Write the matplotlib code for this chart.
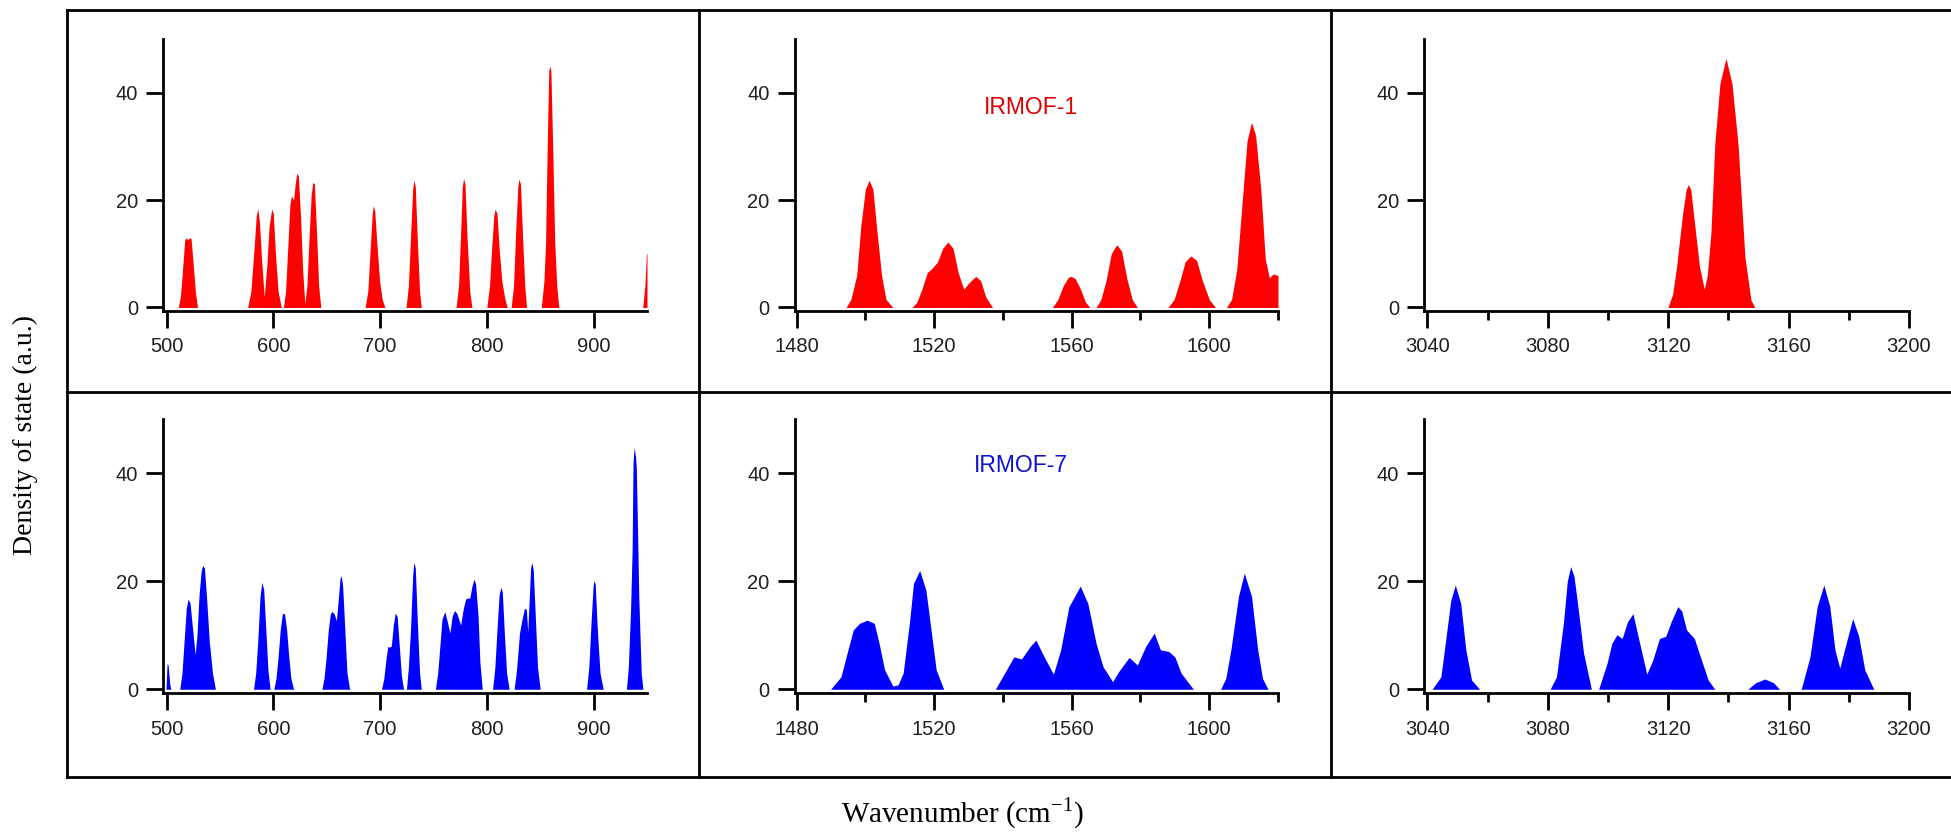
import matplotlib
matplotlib.use('Agg')
import matplotlib.pyplot as plt
from matplotlib.lines import Line2D
from matplotlib.ticker import FixedLocator

plt.rcParams['mathtext.fontset'] = 'custom'
plt.rcParams['mathtext.rm'] = 'Liberation Serif'

# ---- data (wavenumber, density of state) ----
# IRMOF-1, 500-950 cm-1
irmof1_low_x = [500, 511, 513, 515, 517, 518.5, 520, 521.5, 523, 525, 527, 529,
                576, 579, 582, 584, 585.5, 587, 589, 591.5, 594, 596, 598.5, 600, 602, 604.5, 607.5,
                609.5, 611.5, 613.5, 615.5, 617, 619, 620.5, 622, 623.5, 625.5, 627.5, 629.5, 631.5,
                633.5, 635.5, 637, 638.5, 640.5, 642.5, 644.5,
                686, 688.5, 690.5, 692.5, 693.6, 695, 697, 699.5, 702, 704.5,
                724.3, 726.5, 728.5, 730.5, 731.6, 733, 735, 737, 738.6,
                771.2, 773.5, 775.5, 777, 778.2, 779.5, 781.5, 784, 786,
                800, 802.5, 804.5, 806.5, 807.7, 809.5, 811.5, 814, 816.5, 819,
                822.8, 825, 827, 829, 830, 831.5, 833.5, 835.5, 837.2,
                851, 853.5, 855, 856.6, 858, 859, 860, 861.6, 863.6, 865.5, 867.4,
                946, 948, 949.5, 950]
irmof1_low_y = [0, 0, 2, 7, 12.5, 13, 12.6, 13, 12.8, 8, 3, 0,
                0, 3, 11, 17, 18.4, 16, 9, 2, 8, 15, 18.3, 17.5, 10, 3, 0,
                0, 3, 11, 19, 20.8, 20, 23, 25, 24.5, 17, 7, 0.7, 4,
                13, 21, 23.3, 23, 14, 4, 0,
                0, 3, 10, 17, 19, 18, 12, 5, 1.5, 0,
                0, 4, 13, 22, 23.7, 22.5, 12, 3, 0,
                0, 4, 14, 22.5, 24, 23, 13, 3, 0,
                0, 4, 11, 17, 18.3, 17.5, 11, 5, 2, 0,
                0, 4, 14, 22.5, 23.9, 23, 13, 4, 0,
                0, 5, 12, 30.5, 44, 45, 44, 30.5, 12, 4, 0,
                0, 4, 10, 10]

# IRMOF-1, 1480-1620 cm-1
irmof1_mid_x = [1480, 1494.4, 1495.8, 1497.5, 1498.7, 1500, 1501.1, 1502.2, 1503.2, 1504.7, 1506, 1508,
                1513.6, 1515, 1516.5, 1518, 1519.4, 1521, 1522.5, 1524, 1525.5, 1527, 1528.6, 1530,
                1532.1, 1533.5, 1535, 1537,
                1554.4, 1556, 1557.5, 1559, 1559.8, 1561, 1562.5, 1564, 1565.3,
                1567.1, 1568.5, 1570, 1571.5, 1573.1, 1574.5, 1576, 1577.6, 1579.1,
                1588, 1589.8, 1591.5, 1593, 1594.6, 1596.3, 1598, 1600, 1601.8,
                1605, 1606.5, 1608, 1609.5, 1611, 1612.3, 1613.5, 1615, 1616.3, 1617.5, 1618.5, 1620]
irmof1_mid_y = [0, 0, 1.5, 6, 15.3, 22, 23.7, 22, 15.3, 6, 1.5, 0,
                0, 1, 3.5, 6.5, 7.3, 8.5, 11, 12.2, 11, 6.5, 3.4, 4.5,
                5.8, 5, 2, 0,
                0, 1.5, 4, 5.6, 5.8, 5.4, 3.5, 1, 0,
                0, 1.5, 5, 10, 11.7, 10.5, 5.5, 1.5, 0,
                0, 1.5, 5, 8.5, 9.6, 8.8, 5, 1.5, 0,
                0, 1.5, 7, 19, 31, 34.5, 32, 22, 9, 5.5, 6.2, 6]

# IRMOF-1, 3040-3200 cm-1
irmof1_high_x = [3040, 3119.9, 3121.5, 3122.8, 3124.8, 3126, 3126.7, 3127.5, 3128.4, 3130.4, 3132,
                 3133, 3134.2, 3135.5, 3137.2, 3139.2, 3141.2, 3143.2, 3145.5, 3147.5, 3148.8, 3200]
irmof1_high_y = [0, 0, 2.5, 7.6, 17.5, 22, 22.9, 22, 17.5, 7.6, 3.4,
                 6, 13.8, 30.5, 41.7, 46.4, 41.7, 30.5, 9.4, 1.4, 0, 0]

# IRMOF-7, 500-950 cm-1
irmof7_low_x = [499.5, 500.5, 501.5, 503, 504,
                512.4, 514.5, 516.5, 518.5, 520.2, 522, 524, 526.8, 528.5, 530.5, 532.5, 533.8,
                535.5, 537.5, 540, 543, 545.8,
                581.5, 583.5, 585.5, 587.5, 589.2, 591, 593, 595, 597,
                600.5, 602.5, 604.5, 606.5, 608.5, 610.5, 612.5, 614.5, 616.5, 619,
                645.5, 647.5, 649.5, 651.5, 653.5, 655, 657, 659.1, 661, 662.5, 663.7, 665, 667, 669, 671.5,
                701.4, 703.5, 705.5, 707.2, 709, 710.5, 712.5, 714.2, 716, 718, 720, 722,
                724.7, 726.5, 728.5, 730.5, 731.6, 733, 735, 737, 738.6,
                751.8, 754, 756, 758, 760.7, 763, 765.4, 767.5, 769.7, 772, 775.5, 778, 780.1, 782,
                784, 786, 787.9, 789.5, 791.8, 793.5, 795.7,
                805.4, 807.5, 809.5, 811.5, 813.1, 814.5, 816.5, 818.5, 820.9,
                825.5, 827.5, 829, 830.6, 832.5, 835.2, 837, 838.3, 840, 841, 842.2, 843.5, 845.5, 847.5, 850,
                893.4, 895.5, 897.5, 899.5, 900.4, 901.5, 903.5, 906, 909,
                930.7, 932.5, 934.6, 936.1, 936.9, 938, 939.3, 940, 941.2, 942.3, 944.6, 946.2, 950]
irmof7_low_y = [0, 4.7, 4.5, 1, 0,
                0, 3, 9, 15, 16.7, 16, 12, 6.4, 10, 17.5, 22, 22.9,
                22.5, 17, 9, 3, 0,
                0, 3, 9, 17, 19.8, 18.5, 11, 3.5, 0,
                0, 2, 6, 11, 14, 14, 11, 6, 2, 0,
                0, 2, 6, 11, 14, 14.4, 14, 12.7, 17, 20.5, 21, 19, 11, 3, 0,
                0, 2, 5.5, 7.9, 7.8, 8, 12, 14.1, 13.5, 8, 2.5, 0,
                0, 4, 11, 21, 23.5, 22.5, 12, 3, 0,
                0, 3, 8, 13, 14.4, 12.5, 10.4, 13.5, 14.6, 14, 11.9, 15, 16.7, 16.9,
                16.9, 19, 20.4, 19.5, 13.5, 5, 0,
                0, 4, 11, 17.5, 18.9, 18, 10, 3, 0,
                0, 3, 6.5, 10.4, 12.5, 15, 14.8, 10.7, 18, 22.5, 23.5, 22, 13, 4, 0,
                0, 4, 12, 19, 20.2, 19.5, 11, 3, 0,
                0, 4, 14.7, 26, 41.9, 44.8, 43, 41, 28.9, 17.2, 3, 0, 0]

# IRMOF-7, 1480-1620 cm-1
irmof7_mid_x = [1480, 1489.9, 1492.9, 1494.7, 1496.5, 1498.3, 1500.5, 1502.6, 1504, 1505.6, 1508,
                1509.5, 1511, 1512.8, 1514, 1515.8, 1517.6, 1519.1, 1520.6, 1522.8,
                1537.8, 1540.5, 1543.2, 1545.4, 1548, 1549.6, 1552, 1554.7, 1556.8, 1559.2, 1562.5,
                1564.7, 1567.1, 1569.1, 1571.9, 1573.7, 1576.7, 1579.1, 1581.5, 1584, 1585.8,
                1588.2, 1590, 1591.8, 1595.4,
                1603.3, 1604.8, 1606.3, 1608.5, 1610.2, 1612.3, 1614.1, 1615.5, 1617.1, 1620]
irmof7_mid_y = [0, 0, 2.3, 6.7, 11, 12.2, 12.8, 12.2, 8.5, 3.6, 0.6,
                0.8, 3, 12.2, 19.6, 22, 18.4, 11, 3.6, 0,
                0, 3, 6, 5.6, 8, 9.1, 6, 2.8, 7.3, 15.3, 19.1,
                15.9, 8.5, 4.2, 1.4, 3.3, 5.9, 4.5, 7.9, 10.4, 7.3,
                7, 6, 3, 0,
                0, 2, 7.3, 17.2, 21.5, 17.2, 7.3, 2, 0, 0]

# IRMOF-7, 3040-3200 cm-1
irmof7_high_x = [3040, 3041.6, 3044.5, 3046.1, 3047.8, 3049.3, 3051.1, 3052.8, 3054.7, 3057.4,
                 3080.8, 3082.9, 3085.2, 3086.5, 3087.6, 3088.7, 3089.9, 3091.9, 3094.5,
                 3096.9, 3099.7, 3101.3, 3103, 3104.7, 3106.5, 3108.3, 3110.3, 3112.9, 3114.9,
                 3117.1, 3119.2, 3121, 3123.2, 3124.5, 3126.1, 3128.7, 3130.7, 3133.3, 3135.5,
                 3146.5, 3149, 3152.1, 3155, 3157,
                 3164.2, 3167.1, 3169.5, 3171.7, 3173.7, 3175.4, 3177, 3178.7, 3181.3, 3183.3,
                 3185.3, 3188.3, 3200]
irmof7_high_y = [0, 0, 2.3, 9.1, 16.5, 19.3, 15.9, 7.3, 1.7, 0,
                 0, 2.3, 12.2, 20, 22.7, 21, 15.9, 6.7, 0,
                 0, 4.8, 8.5, 10.1, 9.4, 12.5, 14, 9.1, 2.8, 5.4,
                 9.4, 9.8, 12.5, 15.3, 14.5, 11, 9.4, 6, 1.7, 0,
                 0, 1.2, 1.9, 1.2, 0,
                 0, 6, 15.3, 19.3, 15.3, 7.3, 3.9, 7.6, 13.1, 9.8,
                 3.6, 0, 0]

# axis ranges and ticks for the three columns
col_xlim = [(496.7, 950), (1479.4, 1620), (3039, 3200)]
col_major = [[500, 600, 700, 800, 900], [1480, 1520, 1560, 1600], [3040, 3080, 3120, 3160, 3200]]
col_minor = [[], [1500, 1540, 1580, 1620], [3060, 3100, 3140, 3180]]
y_ticks = [0, 20, 40]
labels = ['IRMOF-1', 'IRMOF-7']

W, H = 1951, 835
fig = plt.figure(figsize=(W / 100, H / 100), dpi=100)

def px_rect(x0, x1, ytop, ybot):
    return [x0 / W, 1 - ybot / H, (x1 - x0) / W, (ybot - ytop) / H]

col_px = [(163, 647), (794.5, 1278), (1424.3, 1909)]
row_px = [(39, 310.7), (419.3, 693.3)]
row_ylim = [(-0.6, 50), (-0.75, 50)]

series = [[(irmof1_low_x, irmof1_low_y), (irmof1_mid_x, irmof1_mid_y), (irmof1_high_x, irmof1_high_y)],
          [(irmof7_low_x, irmof7_low_y), (irmof7_mid_x, irmof7_mid_y), (irmof7_high_x, irmof7_high_y)]]
colors = ['#ff0000', '#0000ff']

tick_font = {'family': 'Liberation Sans', 'size': 14.5, 'color': '#202020'}

for r in range(2):
    for c in range(3):
        ax = fig.add_axes(px_rect(col_px[c][0], col_px[c][1], row_px[r][0], row_px[r][1]))
        x, y = series[r][c]
        ax.fill_between(x, y, 0, color=colors[r], lw=0)
        ax.set_xlim(col_xlim[c])
        ax.set_ylim(row_ylim[r])
        ax.patch.set_alpha(0)
        for s in ['top', 'right']:
            ax.spines[s].set_visible(False)
        for s in ['left', 'bottom']:
            ax.spines[s].set_linewidth(2)
        ax.xaxis.set_major_locator(FixedLocator(col_major[c]))
        ax.xaxis.set_minor_locator(FixedLocator(col_minor[c]))
        ax.set_yticks(y_ticks)
        ax.tick_params(which='major', direction='out', length=12, width=2, pad=7)
        ax.tick_params(which='minor', direction='out', length=6.5, width=2)
        ax.set_xticklabels([str(v) for v in col_major[c]], fontdict=tick_font)
        ax.set_yticklabels([str(v) for v in y_ticks], fontdict=tick_font)
        ax.tick_params(axis='y', pad=6)

# sample names
fig.text(1031 / W, 1 - 108 / H, labels[0], color='#e00000', fontsize=16.5,
         family='Liberation Sans', ha='center', va='center')
fig.text(1021 / W, 1 - 466 / H, labels[1], color='#1010d0', fontsize=16.5,
         family='Liberation Sans', ha='center', va='center')

# panel boxes
lw_box = 2
for yy in [10, 392, 777]:
    fig.add_artist(Line2D([67 / W, 1], [1 - yy / H, 1 - yy / H], color='black', lw=lw_box))
for xx in [67, 698.5, 1331]:
    fig.add_artist(Line2D([xx / W, xx / W], [1 - 10 / H, 1 - 777 / H], color='black', lw=lw_box))

fig.text(25 / W, 1 - 435 / H, 'Density of state (a.u.)', rotation=90, family='Liberation Serif',
         fontsize=20, ha='center', va='center')
fig.text(962 / W, 1 - 813 / H, r'Wavenumber (cm$^{\mathrm{-1}}$)', family='Liberation Serif',
         fontsize=21, ha='center', va='center')

fig.savefig('out.png', dpi=100)
